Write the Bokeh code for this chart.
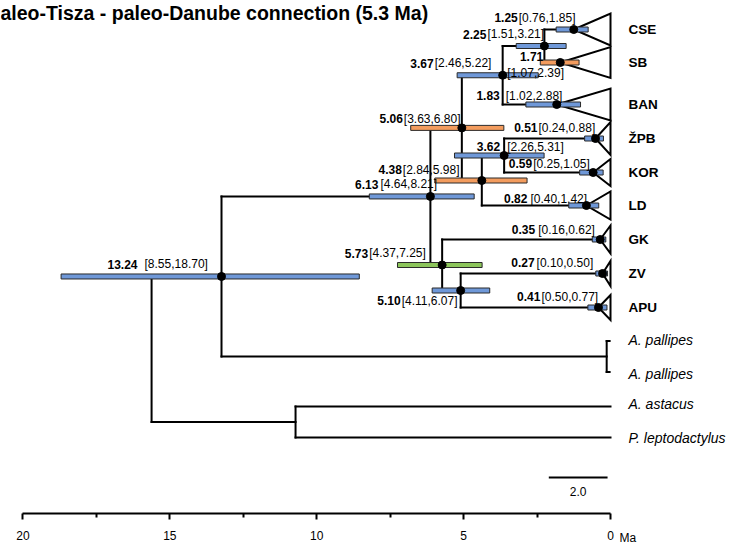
from bokeh.plotting import figure
from bokeh.models import Range1d, LinearAxis, FixedTicker
from bokeh.core.properties import value
from bokeh.embed import file_html
from bokeh.resources import INLINE

# ---------------- data ----------------
TITLE = "aleo-Tisza - paleo-Danube connection (5.3 Ma)"

clade_names = ["CSE", "SB", "BAN", "ŽPB", "KOR", "LD", "GK", "ZV", "APU"]
clade_age = [1.25, 1.71, 1.83, 0.51, 0.59, 0.82, 0.35, 0.27, 0.41]
clade_ci_text = ["[0.76,1.85]", "[1.07,2.39]", "[1.02,2.88]", "[0.24,0.88]", "[0.25,1.05]",
                 "[0.40,1.42]", "[0.16,0.62]", "[0.10,0.50]", "[0.50,0.77]"]
clade_lo = [0.76, 1.07, 1.02, 0.24, 0.25, 0.40, 0.16, 0.10, 0.12]
clade_hi = [1.85, 2.39, 2.88, 0.88, 1.05, 1.42, 0.62, 0.50, 0.77]
clade_bar = ["blue", "orange", "blue", "blue", "blue", "blue", "blue", "blue", "blue"]

outgroup_names = ["A. pallipes", "A. astacus", "P. leptodactylus"]

node_ids = ["N1", "N2", "N3", "N4", "N5", "N6", "N7", "N8", "N9", "N10", "ROOT"]
node_age = [2.25, 3.67, 3.62, 4.38, 5.06, 5.10, 5.73, 6.13, 13.24, 10.72, 15.62]
node_ci_text = ["[1.51,3.21]", "[2.46,5.22]", "[2.26,5.31]", "[2.84,5.98]", "[3.63,6.80]",
                "[4.11,6.07]", "[4.37,7.25]", "[4.64,8.21]", "[8.55,18.70]", None, None]
node_lo = [1.51, 2.46, 2.26, 2.84, 3.63, 4.11, 4.37, 4.64, 8.55, None, None]
node_hi = [3.21, 5.22, 5.31, 5.98, 6.80, 6.07, 7.25, 8.21, 18.70, None, None]
node_bar = ["blue", "blue", "blue", "orange", "orange", "blue", "green", "blue", "blue", None, None]
node_children = [["CSE", "SB"], ["N1", "BAN"], ["ŽPB", "KOR"], ["N3", "LD"], ["N2", "N4"],
                 ["ZV", "APU"], ["GK", "N6"], ["N5", "N7"], ["N8", "A. pallipes"],
                 ["A. astacus", "P. leptodactylus"], ["N9", "N10"]]

axis_ticks = [0, 5, 10, 15, 20]
axis_minor_ticks = [2.5, 7.5, 12.5, 17.5]
axis_unit = "Ma"
scale_bar_len = 2.0

# ---------------- layout / style ----------------
W, H = 729, 549
AXIS_Y = 513
X0_PX, PX_PER_MA = 610.0, 29.38
x_left = X0_PX / PX_PER_MA
x_right = -(W - X0_PX) / PX_PER_MA

COLORS = {"blue": "#6f98d8", "orange": "#f39c5e", "green": "#8cc55b"}
FONT = value("Liberation Sans")

tip_y = {"CSE": 29, "SB": 62, "BAN": 104, "ŽPB": 138, "KOR": 172, "LD": 205, "GK": 239,
         "ZV": 273, "APU": 307, "A. pallipes": 356, "A. astacus": 406, "P. leptodactylus": 437}
tri_half = {"CSE": 16, "SB": 15.5, "BAN": 16, "ŽPB": 16.5, "KOR": 13.5, "LD": 14, "GK": 14,
            "ZV": 12.5, "APU": 12.5}
BRACKET_X, BRACKET_TICK_X, BRACKET_HALF = 0.13, 0.03, 15.5

# label offsets (px): bold right end dx, ci left start dx, bold dy, ci dy
lab = {"13.24": (-84, -77, -12, -12), "6.13": (-52, -50, -12, -12), "5.06": (-59, -58, -9, -9),
       "3.67": (-69, -68, -12, -12), "2.25": (-58, -57, -12, -12), "1.25": (-56, -55, -12, -12),
       "1.71": (-17, -53, -6, 10), "1.83": (-57, -51, -9, -9), "0.51": (-58, -57, -11, -11),
       "3.62": (-4, 3, -9, -9), "0.59": (-61, -60, -9, -9), "4.38": (-80, -79, -11, -11),
       "0.82": (-59, -56, -7, -7), "0.35": (-65, -62, -10, -10), "5.73": (-74, -73, -12, -12),
       "0.27": (-68, -66, -11, -11), "5.10": (-60, -59, 10, 10), "0.41": (-58, -57, -11, -11)}

# ---------------- tree geometry ----------------
pos = {}
for n, a in zip(clade_names, clade_age):
    pos[n] = (a, tip_y[n])
pos["A. pallipes"] = (BRACKET_X, tip_y["A. pallipes"])
pos["A. astacus"] = (0.0, tip_y["A. astacus"])
pos["P. leptodactylus"] = (0.0, tip_y["P. leptodactylus"])

x0s, y0s, x1s, y1s = [], [], [], []
for nid, a, ch in zip(node_ids, node_age, node_children):
    ys = [pos[c][1] for c in ch]
    pos[nid] = (a, sum(ys) / len(ys))
    x0s.append(a); y0s.append(min(ys)); x1s.append(a); y1s.append(max(ys))
    for c in ch:
        x0s.append(a); y0s.append(pos[c][1]); x1s.append(pos[c][0]); y1s.append(pos[c][1])

p = figure(width=W, height=H, x_range=Range1d(x_left, x_right), y_range=Range1d(H, 0),
           output_backend="svg", toolbar_location=None, x_axis_type=None, y_axis_type=None,
           min_border_left=0, min_border_right=0, min_border_top=0, min_border_bottom=0)
p.outline_line_color = None
p.background_fill_color = "white"

# branches
p.segment(x0=x0s, y0=y0s, x1=x1s, y1=y1s, line_color="black", line_width=2, line_cap="square")

# pallipes bracket
py = tip_y["A. pallipes"]
p.segment(x0=[BRACKET_X, BRACKET_X, BRACKET_X], y0=[py - BRACKET_HALF, py - BRACKET_HALF, py + BRACKET_HALF],
          x1=[BRACKET_X, BRACKET_TICK_X, BRACKET_TICK_X], y1=[py + BRACKET_HALF, py - BRACKET_HALF, py + BRACKET_HALF],
          line_color="black", line_width=2, line_cap="square")

# collapsed clade triangles
xs, ys = [], []
for n, a in zip(clade_names, clade_age):
    y = tip_y[n]
    xs.append([a, 0.0, 0.0])
    ys.append([y, y - tri_half[n], y + tri_half[n]])
p.patches(xs=xs, ys=ys, fill_color=None, line_color="black", line_width=2, line_join="miter")

# HPD bars
bar_y, bar_l, bar_r, bar_c = [], [], [], []
for n, lo, hi, c in zip(clade_names, clade_lo, clade_hi, clade_bar):
    bar_y.append(pos[n][1]); bar_l.append(hi); bar_r.append(lo); bar_c.append(COLORS[c])
for nid, lo, hi, c in zip(node_ids, node_lo, node_hi, node_bar):
    if lo is None:
        continue
    bar_y.append(pos[nid][1]); bar_l.append(hi); bar_r.append(lo); bar_c.append(COLORS[c])
p.hbar(y=bar_y, left=bar_l, right=bar_r, height=5, fill_color=bar_c, line_color="#2a2a2a", line_width=1)

# node dots
dx, dy = [], []
for n in clade_names:
    dx.append(pos[n][0]); dy.append(pos[n][1])
for nid, lo in zip(node_ids, node_lo):
    if lo is not None:
        dx.append(pos[nid][0]); dy.append(pos[nid][1])
p.scatter(x=dx, y=dy, size=8, marker="circle", fill_color="black", line_color="black")

# node labels
bx, by, bt, bo = [], [], [], []
cx, cy, ct, co = [], [], [], []
all_age = clade_age + [a for a, lo in zip(node_age, node_lo) if lo is not None]
all_ci = clade_ci_text + [t for t in node_ci_text if t is not None]
all_y = [pos[n][1] for n in clade_names] + [pos[nid][1] for nid, lo in zip(node_ids, node_lo) if lo is not None]
for a, t, y in zip(all_age, all_ci, all_y):
    key = f"{a:.2f}"
    bdx, cdx, bdy, cdy = lab[key]
    bx.append(a); by.append(y + bdy); bt.append(key); bo.append(bdx)
    cx.append(a); cy.append(y + cdy); ct.append(t); co.append(cdx)
p.text(x=bx, y=by, text=bt, x_offset=bo, text_align="right", text_baseline="middle",
       text_font=FONT, text_font_style="bold", text_font_size="12px", text_color="black")
p.text(x=cx, y=cy, text=ct, x_offset=co, text_align="left", text_baseline="middle",
       text_font=FONT, text_font_size="12px", text_color="black")

# tip labels
p.text(x=[0.0] * len(clade_names), y=[tip_y[n] for n in clade_names], text=clade_names,
       x_offset=18, text_align="left", text_baseline="middle",
       text_font=FONT, text_font_style="bold", text_font_size="13.5px", text_color="black")
og_y = [py - 17, py + 17, tip_y["A. astacus"] - 3, tip_y["P. leptodactylus"]]
og_t = [outgroup_names[0], outgroup_names[0], outgroup_names[1], outgroup_names[2]]
p.text(x=[0.0] * 4, y=og_y, text=og_t, x_offset=18, text_align="left", text_baseline="middle",
       text_font=FONT, text_font_style="italic", text_font_size="14px", text_color="black")

# title
p.text(x=[x_left], y=[12], text=[TITLE], text_align="left", text_baseline="middle",
       text_font=FONT, text_font_style="bold", text_font_size="19.5px", text_color="black")

# scale bar
p.segment(x0=[0.1], y0=[477], x1=[0.1 + scale_bar_len], y1=[477], line_color="black", line_width=2)
p.text(x=[0.1 + scale_bar_len / 2], y=[491], text=[f"{scale_bar_len:.1f}"], text_align="center",
       text_baseline="middle", text_font=FONT, text_font_size="12px", text_color="black")

# time axis (drawn at a fixed location inside the frame)
ax = LinearAxis(ticker=FixedTicker(ticks=axis_ticks, minor_ticks=axis_minor_ticks), bounds=(0, 20),
                fixed_location=AXIS_Y,
                axis_line_width=2, axis_line_color="black",
                major_tick_line_width=2, major_tick_line_color="black", major_tick_in=0, major_tick_out=6,
                minor_tick_line_width=2, minor_tick_line_color="black", minor_tick_in=0, minor_tick_out=4,
                major_label_standoff=11, major_label_text_font="Liberation Sans",
                major_label_text_font_size="12px", major_label_text_color="black")
p.add_layout(ax, "below")
p.text(x=[0.0], y=[537], text=[axis_unit], x_offset=9, text_align="left", text_baseline="middle",
       text_font=FONT, text_font_size="12px", text_color="black")

open("out.html", "w").write(file_html(p, INLINE))
